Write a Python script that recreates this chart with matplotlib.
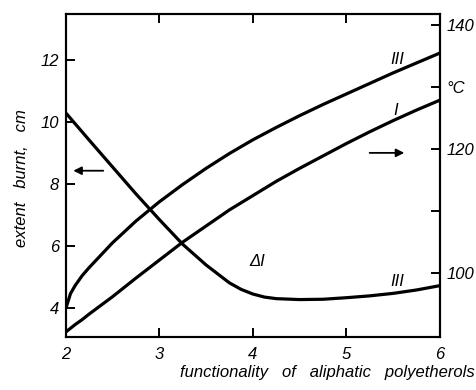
import numpy as np
import matplotlib
matplotlib.use('Agg')
import matplotlib.pyplot as plt

plt.rcParams['font.family'] = ['Liberation Sans', 'DejaVu Sans']
plt.rcParams['font.style'] = 'italic'

# functionality values (x)
func = [2.0, 2.25, 2.5, 2.75, 3.0, 3.25, 3.5, 3.75, 3.875, 4.0, 4.125, 4.25,
        4.5, 4.75, 5.0, 5.25, 5.5, 5.75, 6.0]
# curve III, extent burnt (cm), left axis
burnt_III = [10.3, 9.42, 8.55, 7.68, 6.85, 6.05, 5.38, 4.80, 4.59, 4.44, 4.34,
             4.29, 4.26, 4.27, 4.32, 4.38, 4.46, 4.57, 4.71]

func_t = [2.0, 2.05, 2.1, 2.175, 2.25, 2.5, 2.75, 3.0, 3.25, 3.5, 3.75, 4.0,
          4.25, 4.5, 4.75, 5.0, 5.25, 5.5, 5.75, 6.0]
# curve III, temperature (deg C), right axis
temp_III = [94.3, 96.7, 98.0, 99.6, 100.9, 104.9, 108.4, 111.5, 114.3, 116.9,
            119.3, 121.5, 123.5, 125.4, 127.2, 128.9, 130.6, 132.3, 133.9, 135.5]
# curve I, temperature (deg C), right axis
temp_I = [90.5, 91.1, 91.7, 92.5, 93.4, 96.2, 99.2, 102.1, 105.0, 107.6, 110.2,
          112.5, 114.8, 116.9, 118.9, 120.9, 122.8, 124.6, 126.3, 127.9]

left_ticks = [4, 6, 8, 10, 12]
right_ticks = [100, 110, 120, 130, 140]
right_labels = ['100', '', '120', '°C', '140']

fig = plt.figure(figsize=(4.77, 3.9), dpi=100)
ax = fig.add_axes([0.138, 0.136, 0.784, 0.828])
ax2 = ax.twinx()

lw = 2.3
ax.plot(func, burnt_III, color='black', lw=lw, solid_capstyle='butt')
ax2.plot(func_t, temp_III, color='black', lw=lw, solid_capstyle='butt')
ax2.plot(func_t, temp_I, color='black', lw=lw, solid_capstyle='butt')

ax.set_xlim(2, 6)
ax.set_ylim(3.05, 13.5)
ax2.set_ylim(89.7, 141.8)

ax.set_xticks([2, 3, 4, 5, 6])
ax.set_yticks(left_ticks)
ax2.set_yticks(right_ticks)
ax2.set_yticklabels(right_labels)

for a in (ax, ax2):
    for s in a.spines.values():
        s.set_linewidth(1.5)
ax.tick_params(axis='both', direction='in', length=6.5, width=1.4,
               labelsize=12, top=True, pad=5)
ax.tick_params(axis='x', pad=7)
ax2.tick_params(axis='y', direction='in', length=6.5, width=1.4,
                labelsize=12, pad=5)

# curve labels
ax2.text(5.54, 134.5, 'III', fontsize=12, ha='center', va='center')
ax2.text(5.53, 126.3, 'I', fontsize=12, ha='center', va='center')
ax.text(4.05, 5.49, 'ΔI', fontsize=12, ha='center', va='center')
ax.text(5.55, 4.84, 'III', fontsize=12, ha='center', va='center')

# arrows pointing to the axes
ax.annotate('', xy=(2.05, 8.43), xytext=(2.43, 8.43),
            arrowprops=dict(arrowstyle='-|>', color='black', lw=1.3,
                            mutation_scale=12))
ax2.annotate('', xy=(5.65, 119.4), xytext=(5.22, 119.4),
             arrowprops=dict(arrowstyle='-|>', color='black', lw=1.3,
                             mutation_scale=12))

fig.text(22 / 477, 1 - 178 / 390, 'extent   burnt,   cm', rotation=90,
         ha='center', va='center', fontsize=12)
fig.text(475 / 477, 1 - 372 / 390,
         'functionality   of   aliphatic   polyetherols',
         ha='right', va='center', fontsize=12)

fig.savefig('out.png', dpi=100)
